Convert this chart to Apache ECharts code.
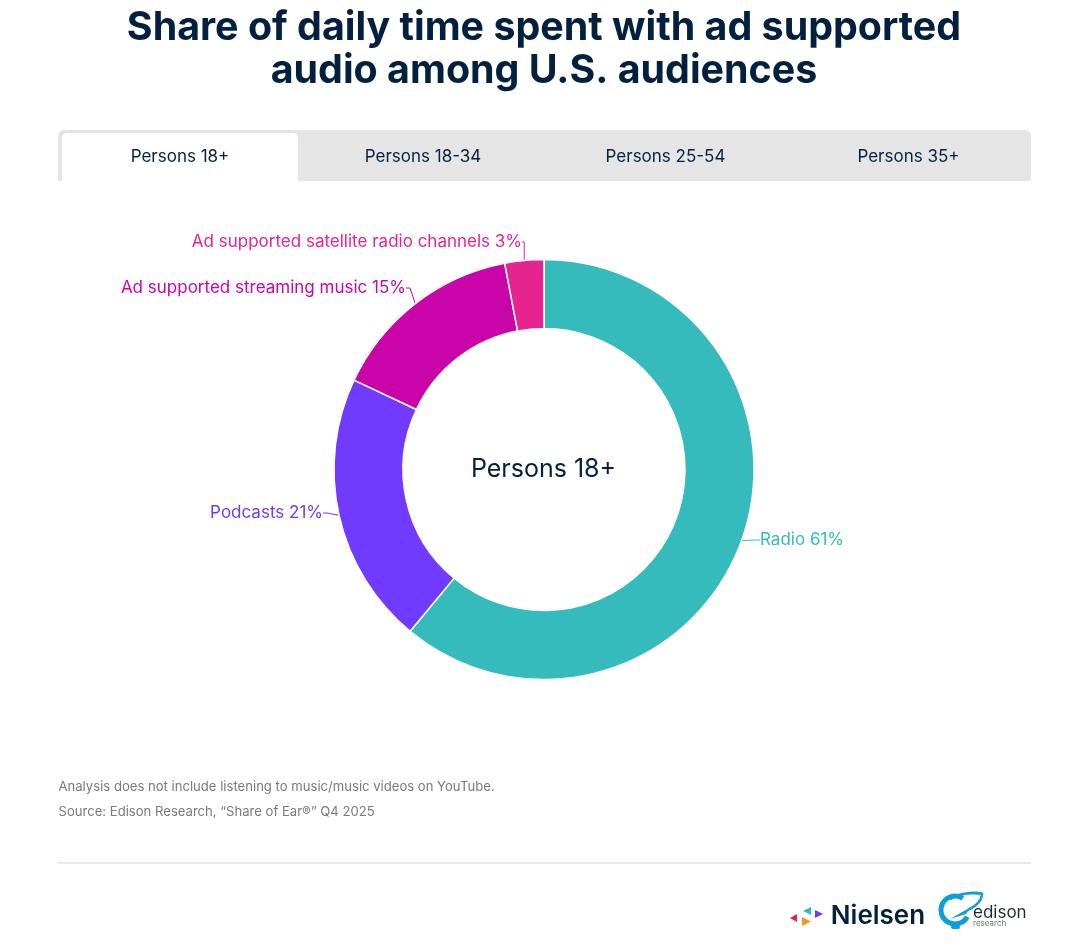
<!DOCTYPE html>
<html>
<head>
<meta charset="utf-8">
<title>Share of daily time spent with ad supported audio</title>
<script src="https://cdn.jsdelivr.net/npm/echarts@6/dist/echarts.min.js"></script>
<style>
  html, body { margin: 0; padding: 0; background: #fff; }
  #chart { width: 1072px; height: 950px; }
</style>
</head>
<body>
<div id="chart"></div>
<script>
const categories = ["Radio", "Podcasts", "Ad supported streaming music", "Ad supported satellite radio channels"]
const shares = [61, 21, 15, 3]
const colors = ["#35BBBB", "#703BFF", "#C905A9", "#E5248F"]
const tabLabels = ["Persons 18+", "Persons 18-34", "Persons 25-54", "Persons 35+"]
const titleLines = ["Share of daily time spent with ad supported", "audio among U.S. audiences"]
const notes = ["Analysis does not include listening to music/music videos on YouTube.", "Source: Edison Research, “Share of Ear®” Q4 2025"]

const FONT = "Inter"
const navy = "#03213F"
const edisonBlue = "#0D9EDD"

const text = (x, y, str, size, fill, extra) => ({
  type: "text",
  x, y,
  style: Object.assign({ text: str, font: `${size}px ${FONT}`, fill, textAlign: "center", textVerticalAlign: "middle" }, extra)
})

const tabCenters = [180, 423, 665.5, 908.5]
// where each slice's label sits, same order as categories
const labelSpots = [
  { x: 760, y: 540, align: "left" },
  { x: 323, y: 513, align: "right" },
  { x: 406, y: 288, align: "right" },
  { x: 522, y: 242, align: "right" }
]

const graphics = [
  // tab bar
  { type: "rect", shape: { x: 58, y: 130, width: 973, height: 51, r: [6, 6, 0, 0] }, style: { fill: "#E5E5E5" } },
  { type: "rect", shape: { x: 62, y: 133, width: 236, height: 48, r: [5, 5, 0, 0] }, style: { fill: "#fff" } },
  ...tabLabels.map((t, i) => text(tabCenters[i], 157, t, 17, navy)),
  // title
  ...titleLines.map((t, i) => text(544, 28 + i * 43, t, 39.4, navy, { font: `700 39.4px ${FONT}` })),
  // centre label
  text(543.5, 469, tabLabels[0], 25, navy),
  // footnotes
  ...notes.map((t, i) => text(58.5, 787 + i * 25, t, 13.1, "#7A7A7A", { textAlign: "left" })),
  { type: "rect", shape: { x: 58, y: 862, width: 973, height: 2 }, style: { fill: "#E8E8E8" } },
  // Nielsen logo
  { type: "polygon", shape: { points: [[790, 918], [797, 914], [797, 922]] }, style: { fill: "#E8214F" } },
  { type: "polygon", shape: { points: [[811, 907], [811, 915], [803, 911]] }, style: { fill: "#35BBBB" } },
  { type: "polygon", shape: { points: [[802, 917], [811, 921.5], [802, 926]] }, style: { fill: "#F79420" } },
  { type: "polygon", shape: { points: [[815, 910], [823, 914], [815, 918]] }, style: { fill: "#703BFF" } },
  text(878, 916, "Nielsen", 26, navy, { font: `600 26px ${FONT}` }),
  // Edison logo
  { type: "arc", shape: { cx: 955, cy: 910, r: 14, startAngle: 0.5, endAngle: 5.3 }, style: { stroke: edisonBlue, lineWidth: 5, fill: null } },
  { type: "bezierCurve", shape: { x1: 950, y1: 899, cpx1: 962, cpy1: 891, x2: 982, y2: 894, cpx2: 982, cpy2: 893 }, style: { stroke: edisonBlue, lineWidth: 3, fill: null } },
  { type: "bezierCurve", shape: { x1: 982, y1: 894, cpx1: 982, cpy1: 900, x2: 968, y2: 910, cpx2: 976, cpy2: 906 }, style: { stroke: edisonBlue, lineWidth: 2.5, fill: null } },
  { type: "polygon", shape: { points: [[950, 919], [971, 907], [966, 914]] }, style: { fill: edisonBlue } },
  { type: "rect", shape: { x: 951, y: 925, width: 9, height: 4, r: 2 }, style: { fill: edisonBlue } },
  text(973, 913, "edison", 17, "#1A2B3C", { textAlign: "left" }),
  text(973, 924, "research", 8, "#777", { textAlign: "left" })
]

const chart = echarts.init(document.getElementById("chart"), null, { renderer: "canvas" })
chart.setOption({
  animation: false,
  graphic: graphics,
  series: [{
    type: "pie",
    center: [544, 469.5],
    radius: [141, 210],
    startAngle: 90,
    clockwise: true,
    avoidLabelOverlap: false,
    itemStyle: { borderColor: "#fff", borderWidth: 1.5 },
    label: {
      show: true,
      formatter: p => `${p.name} ${p.value}%`,
      fontFamily: FONT,
      fontSize: 17,
      color: "inherit"
    },
    labelLine: { show: true, length: 6, length2: 4, lineStyle: { width: 1 } },
    labelLayout: p => ({ ...labelSpots[p.dataIndex], verticalAlign: "middle" }),
    data: categories.map((name, i) => ({
      name,
      value: shares[i],
      itemStyle: { color: colors[i] },
      label: { color: colors[i] }
    }))
  }]
})
</script>
</body>
</html>
